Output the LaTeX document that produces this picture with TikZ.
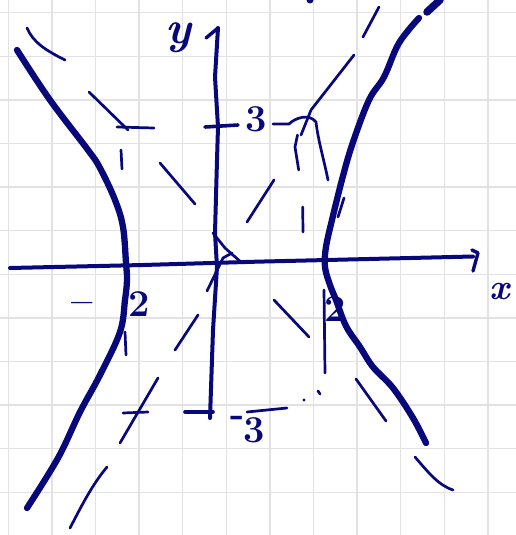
\documentclass[tikz,border=0pt]{standalone}
\definecolor{ink}{RGB}{8,8,122}
\definecolor{gridc}{RGB}{226,226,226}
\begin{document}
\begin{tikzpicture}[x=1pt,y=-1pt, line cap=round, line join=round,
  branch/.style={draw=ink, line width=6.3pt},
  axisline/.style={draw=ink, line width=4pt},
  sketch/.style={draw=ink, line width=2.7pt},
  lab/.style={text=ink, inner sep=0pt, font=\fontsize{38}{38}\selectfont\bfseries}]
\useasboundingbox (0,0) rectangle (516,535);
\clip (0,0) rectangle (516,535);
\fill[white] (0,0) rectangle (516,535);
% grid paper
\foreach \k in {0,...,11} \draw[gridc, line width=1.4pt] ({8.3+43.6*\k},0) -- ({8.3+43.6*\k},535);
\foreach \k in {0,...,12} \draw[gridc, line width=1.4pt] (0,{12.7+43.6*\k}) -- (516,{12.7+43.6*\k});

% axes
\draw[axisline] (10,268) -- (143,265) -- (256,261.7) -- (473,256.5);
\draw[axisline, line width=3.4pt] (472,250) -- (478,253) -- (473,271);
\draw[axisline] (210,418) -- (213,330) -- (217,267) -- (215,233) -- (217,160) -- (218,127) -- (215,77) -- (218,28);
\draw[axisline, line width=3.4pt] (218,28) -- (206,38);
\draw[axisline, line width=3.6pt] (205,127) -- (238,125);
\draw[axisline, line width=3.6pt] (185,412) -- (213,412);

% hyperbola branches
\draw[branch] plot[smooth, tension=0.6] coordinates {(17,50) (50,100) (88,150) (100,168) (115,200) (123,227) (126,263) (127,280) (125,300) (120,332) (100,375) (80,412) (58,458) (27,508)};
\draw[branch, line width=7.5pt] (427,12) -- (440,0);
\draw[branch] plot[smooth, tension=0.6] coordinates {(419,18) (399,43) (384,77) (369,100) (352.7,143) (342.7,177) (332.7,217) (326,247) (325,267) (330,285) (336,300) (346,326) (360,347) (373,367) (393,388) (413,418) (426,443)};

% asymptote sketches (falling)
\draw[sketch] (27,28) .. controls (33,42) and (45,50) .. (65,60);
\draw[sketch] (89,92) -- (128,130);
\draw[sketch] (160,163) -- (195,204);
\draw[sketch] (213,233) -- (225,248) -- (242,263);
\draw[sketch] (274,300) -- (309,337);
\draw[sketch] (356,379) -- (386,421);
\draw[sketch] (415,457) .. controls (428,472) and (438,485) .. (453,490);
% asymptote sketches (rising)
\draw[sketch] (70,528) .. controls (82,505) and (92,485) .. (107,467);
\draw[sketch] (120,443) -- (158,378);
\draw[sketch] (175,350) -- (198,315);
\draw[sketch] (207,291) -- (223,258) -- (232,253);
\draw[sketch] (247,222) -- (274,180);
\draw[sketch] (354,55) -- (311,110) -- (301,135);
\draw[sketch] (363,37) -- (379,7);
\fill[ink] (310,0) circle (3.5pt);

% rectangle sketches
\draw[sketch] (117,127) -- (154,128);
\draw[sketch] (121,150) -- (122,169);
\draw[sketch] (125,332) -- (126,355);
\draw[sketch] (123,413) -- (148,412);
\draw[sketch] (273,124) -- (289,124) .. controls (295,118) and (309,113) .. (316,122) .. controls (318,140) and (324,160) .. (328,180);
\draw[sketch] (297.5,135) -- (295,147) -- (298.7,170);
\draw[sketch] (302.7,207) -- (303,232);
\draw[sketch] (344,198) -- (338,217);
\draw[sketch] (324,290) -- (325,373);
\draw[sketch] (247,412) -- (287,408);
\fill[ink] (304,400) circle (1.6pt);
\draw[sketch] (318,391) -- (320,394);

% labels
\node[lab, font=\fontsize{46}{46}\selectfont\bfseries\itshape] (ylab) at (178,38) {y};
\node[lab, font=\fontsize{36}{36}\selectfont\bfseries\itshape] (xlab) at (500,292) {x};
\node[lab] (ytop) at (256,119) {3};
\node[lab] (ybotm) at (238,421) {-};
\node[lab] (ybot) at (254,430) {3};
\node[lab] (xleftm) at (82,308) {--};
\node[lab] (xleft) at (139,304) {2};
\node[lab] (xright) at (335,309) {2};
\end{tikzpicture}
\end{document}
